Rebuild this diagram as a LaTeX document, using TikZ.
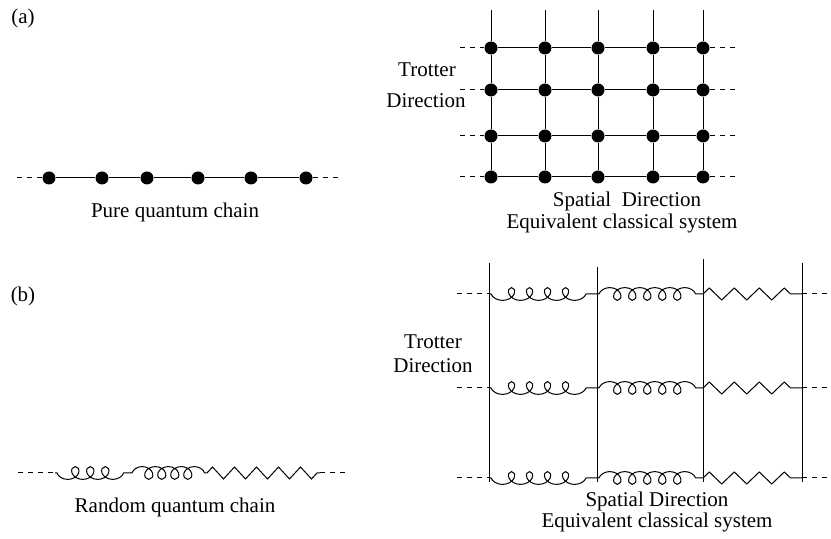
\documentclass[tikz,border=0pt]{standalone}
\usepackage{fontspec}
\setmainfont{LiberationSerif-Regular.ttf}
\usetikzlibrary{decorations.pathmorphing}
\tikzset{
  site/.style={circle,fill,inner sep=0pt,minimum size=6.5pt},
  openend/.style={dash pattern=on 2.5pt off 2.5pt},
  coilup/.style={decorate,decoration={coil,mirror,aspect=1.1,amplitude=3.2pt,segment length=#1,pre length=1pt,post length=1pt}},
  coildown/.style={decorate,decoration={coil,aspect=1.1,amplitude=3.2pt,segment length=#1,pre length=1pt,post length=1pt}},
  zig/.style={decorate,decoration={zigzag,amplitude=3pt,segment length=#1}},
}
\begin{document}
\begin{tikzpicture}[x=0.5pt,y=-0.5pt,font=\fontsize{10.5}{12}\selectfont,line width=0.5pt]
\useasboundingbox (0,0) rectangle (831,539);
% (a) pure chain
\node (labA) at (23,18) {(a)};
\foreach \i/\x in {1/49,2/102,3/147,4/198,5/251,6/306}
  \node[site] (p\i) at (\x,178) {};
\coordinate (pl) at (17,178);
\coordinate (pr) at (340,178);
\draw[openend] (pl) -- (p1);
\draw[openend] (p6) -- (pr);
\foreach \i [count=\j from 2] in {1,...,5}
  \draw (p\i) -- (p\j);
\node (pname) at (175,212) {Pure quantum chain};
% (a) classical lattice
\foreach \c/\x in {1/491,2/545,3/598,4/653,5/703}{
  \coordinate (top\c) at (\x,10);
  \foreach \r/\y in {1/48,2/90,3/136,4/177}
    \node[site] (g\c\r) at (\x,\y) {};
  \draw (top\c) -- (g\c1) -- (g\c2) -- (g\c3) -- (g\c4);
}
\foreach \r/\y in {1/48,2/90,3/136,4/177}{
  \coordinate (gl\r) at (460,\y);
  \coordinate (gr\r) at (738,\y);
  \draw[openend] (gl\r) -- (g1\r);
  \draw (g1\r) -- (g2\r) -- (g3\r) -- (g4\r) -- (g5\r);
  \draw[openend] (g5\r) -- (gr\r);
}
\node (trotA) at (427,70) {Trotter};
\node (dirA) at (426,101) {Direction};
\node (spatA) at (627,201) {Spatial\ \ Direction};
\node (eqA) at (622,223) {Equivalent classical system};
% (b) random chain
\node (labB) at (23,296) {(b)};
\coordinate (r0) at (18,473);
\coordinate (r1) at (55,473);
\coordinate (r2) at (130,473);
\coordinate (r3) at (207,473);
\coordinate (r4) at (320,473);
\coordinate (r5) at (345,473);
\draw[openend] (r0) -- (r1);
\draw[coilup=7.5pt] (r1) -- (r2);
\draw[coildown=6.5pt] (r2) -- (r3);
\draw[zig=11pt] (r3) -- (r4);
\draw[openend] (r4) -- (r5);
\node (rname) at (175,507) {Random quantum chain};
% (b) classical system
\foreach \c/\x/\t in {1/489/263,2/597/267,3/703/259,4/802/263}{
  \coordinate (vt\c) at (\x,\t);
  \coordinate (vb\c) at (\x,482);
  \draw (vt\c) -- (vb\c);
  \foreach \r/\y in {1/294,2/388,3/478}
    \coordinate (h\c\r) at (\x,\y);
}
\foreach \r/\y in {1/294,2/388,3/478}{
  \coordinate (hl\r) at (457,\y);
  \coordinate (hr\r) at (830,\y);
  \draw[openend] (hl\r) -- (h1\r);
  \draw[coilup=9pt] (h1\r) -- (h2\r);
  \draw[coildown=7.5pt] (h2\r) -- (h3\r);
  \draw[zig=12.5pt] (h3\r) -- (h4\r);
  \draw[openend] (h4\r) -- (hr\r);
}
\node (trotB) at (433,342) {Trotter};
\node (dirB) at (433,366) {Direction};
\node (spatB) at (657,501) {Spatial Direction};
\node (eqB) at (657,522) {Equivalent classical system};
\end{tikzpicture}
\end{document}
